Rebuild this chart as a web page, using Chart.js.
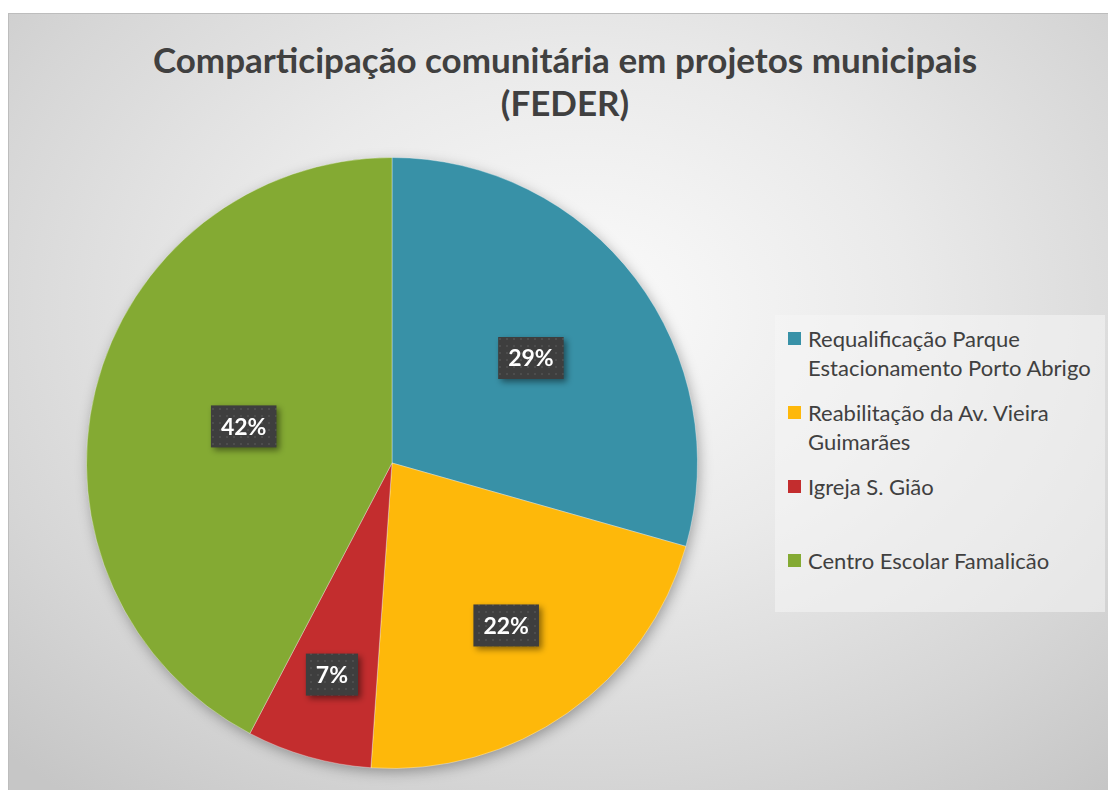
<!DOCTYPE html>
<html>
<head>
<meta charset="utf-8">
<script src="https://cdn.jsdelivr.net/npm/chart.js@4.4.1/dist/chart.umd.min.js"></script>
<style>
  html, body { margin: 0; padding: 0; background: #fff; }
  body { width: 1108px; height: 790px; position: relative; overflow: hidden; font-family: Lato, "Open Sans", sans-serif; }
  #frame {
    position: absolute; left: 8px; top: 13px; width: 1100px; height: 777px;
    box-sizing: border-box; border-top: 1px solid #bdbdbd; border-left: 1px solid #bdbdbd;
    background: radial-gradient(ellipse 75% 80% at 52% 38%, #fbfbfb 0%, #eaeaea 40%, #d6d6d6 75%, #c6c6c6 100%);
  }
  #title {
    position: absolute; left: 8px; width: 1100px; top: 38px; text-align: center;
    font: bold 35px Lato, "Open Sans", sans-serif; color: #404040; line-height: 43px;
    padding-left: 14px; box-sizing: border-box;
  }
  #legend {
    position: absolute; left: 775px; top: 315px; width: 330px; height: 297px;
    background: rgba(245,245,245,0.55);
  }
  .item { position: absolute; left: 13px; color: #404040; font-size: 22px; line-height: 29px; }
  .item .box { position: absolute; left: 0; top: 8px; width: 13px; height: 13px; }
  .item .txt { margin-left: 20px; white-space: nowrap; }
  canvas { position: absolute; left: 0; top: 0; }
</style>
</head>
<body>
<div id="frame"></div>
<div id="title">Comparticipação comunitária em projetos municipais<br>(FEDER)</div>
<div id="legend"></div>
<canvas id="pieChart" width="1108" height="790"></canvas>
<script>
// Data
const categories = [
  ['Requalificação Parque', 'Estacionamento Porto Abrigo'],
  ['Reabilitação da Av. Vieira', 'Guimarães'],
  ['Igreja S. Gião'],
  ['Centro Escolar Famalicão']
];
const shares = [29.4, 21.7, 6.6, 42.3]; // percent of total
const sliceColors = ['#3891a7', '#feb80a', '#c32d2e', '#84aa33'];

// Legend (HTML so the wrapped labels match)
const legendEl = document.getElementById('legend');
categories.forEach((lines, i) => {
  const div = document.createElement('div');
  div.className = 'item';
  div.style.top = (9 + i * 74) + 'px';
  div.innerHTML = '<span class="box" style="background:' + sliceColors[i] + '"></span>' +
    '<div class="txt">' + lines.join('<br>') + '</div>';
  legendEl.appendChild(div);
});

// dotted fill for the value boxes
const pat = document.createElement('canvas');
pat.width = 7; pat.height = 7;
const pc = pat.getContext('2d');
pc.fillStyle = '#3e3e3e'; pc.fillRect(0, 0, 7, 7);
pc.fillStyle = '#4d4d4d'; pc.fillRect(2, 2, 2, 2);

// shadow under the pie
const pieShadow = {
  id: 'pieShadow',
  beforeDatasetsDraw(chart) {
    const arc = chart.getDatasetMeta(0).data[0];
    if (!arc) return;
    const ctx = chart.ctx;
    ctx.save();
    ctx.shadowColor = 'rgba(0,0,0,0.35)';
    ctx.shadowBlur = 14;
    ctx.shadowOffsetX = 2;
    ctx.shadowOffsetY = 4;
    ctx.fillStyle = '#888';
    ctx.beginPath();
    ctx.arc(arc.x, arc.y, arc.outerRadius - 1, 0, Math.PI * 2);
    ctx.fill();
    ctx.restore();
  }
};

// percentage labels in dark boxes
const valueBoxes = {
  id: 'valueBoxes',
  afterDatasetsDraw(chart, args, opts) {
    const ctx = chart.ctx;
    const data = chart.data.datasets[0].data;
    const total = data.reduce((a, b) => a + b, 0);
    chart.getDatasetMeta(0).data.forEach((arc, i) => {
      const mid = (arc.startAngle + arc.endAngle) / 2;
      const r = arc.outerRadius * opts.radius[i];
      const x = arc.x + Math.cos(mid) * r;
      const y = arc.y + Math.sin(mid) * r;
      const text = Math.round(data[i] / total * 100) + '%';
      ctx.save();
      ctx.font = 'bold 23px Lato, "Open Sans", sans-serif';
      const w = ctx.measureText(text).width + 20;
      const h = 42;
      ctx.shadowColor = 'rgba(0,0,0,0.45)';
      ctx.shadowBlur = 6;
      ctx.shadowOffsetX = 3;
      ctx.shadowOffsetY = 3;
      ctx.fillStyle = ctx.createPattern(pat, 'repeat');
      ctx.fillRect(x - w / 2, y - h / 2, w, h);
      ctx.shadowColor = 'transparent';
      ctx.fillStyle = '#ffffff';
      ctx.textAlign = 'center';
      ctx.textBaseline = 'middle';
      ctx.fillText(text, x, y + 1);
      ctx.restore();
    });
  }
};

new Chart(document.getElementById('pieChart'), {
  type: 'pie',
  data: {
    labels: categories.map(l => l.join(' ')),
    datasets: [{
      data: shares,
      backgroundColor: sliceColors,
      borderColor: 'rgba(255,255,255,0.35)',
      borderWidth: 1
    }]
  },
  options: {
    responsive: false,
    animation: false,
    layout: { padding: { left: 86, right: 410, top: 157, bottom: 21 } },
    plugins: {
      legend: { display: false },
      title: { display: false },
      tooltip: { enabled: false },
      valueBoxes: { radius: [0.57, 0.65, 0.72, 0.5] }
    }
  },
  plugins: [pieShadow, valueBoxes]
});
</script>
</body>
</html>
